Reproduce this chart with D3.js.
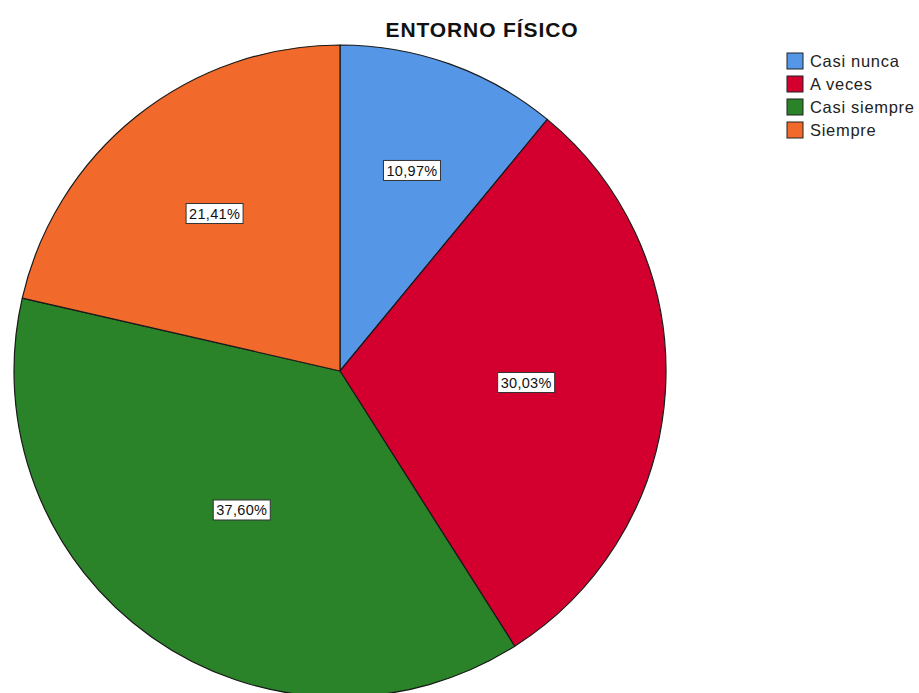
<!DOCTYPE html>
<html>
<head>
<meta charset="utf-8">
<script src="https://cdn.jsdelivr.net/npm/d3@7"></script>
<style>
  html, body { margin: 0; padding: 0; background: #fff; }
  svg { display: block; font-family: Arial, "Liberation Sans", sans-serif; }
</style>
</head>
<body>
<svg id="chart" width="919" height="693"></svg>
<script>
const title = "ENTORNO FÍSICO";
const categories = ["Casi nunca", "A veces", "Casi siempre", "Siempre"];
const values = [10.97, 30.03, 37.60, 21.41];
const labels = ["10,97%", "30,03%", "37,60%", "21,41%"];
const colors = ["#5596E6", "#D3002F", "#2A8229", "#F26A2B"];

const svg = d3.select("#chart");
const cx = 340, cy = 371, R = 326;

const color = d3.scaleOrdinal().domain(categories).range(colors);
const data = categories.map((c, i) => ({ cat: c, value: values[i], label: labels[i] }));

const pie = d3.pie().sort(null).value(d => d.value).startAngle(0).endAngle(2 * Math.PI);
const arcs = pie(data);
const arc = d3.arc().innerRadius(0).outerRadius(R);

const g = svg.append("g").attr("transform", `translate(${cx},${cy})`);

g.selectAll("path.slice")
  .data(arcs)
  .join("path")
  .attr("class", "slice")
  .attr("d", arc)
  .attr("fill", d => color(d.data.cat))
  .attr("stroke", "#1a1a1a")
  .attr("stroke-width", 1.2)
  .attr("stroke-linejoin", "round");

// Labels near the geometric centroid of each wedge
const lab = g.selectAll("g.lab")
  .data(arcs)
  .join("g")
  .attr("class", "lab")
  .attr("transform", d => {
    const half = (d.endAngle - d.startAngle) / 2;
    const mid = (d.startAngle + d.endAngle) / 2;
    const r = (2 / 3) * R * Math.sin(half) / half;
    return `translate(${r * Math.sin(mid)},${-r * Math.cos(mid)})`;
  });

lab.append("rect")
  .attr("x", -28.5).attr("y", -10)
  .attr("width", 57).attr("height", 20)
  .attr("fill", "#fff")
  .attr("stroke", "#333")
  .attr("stroke-width", 1);

lab.append("text")
  .attr("text-anchor", "middle")
  .attr("dy", "0.36em")
  .attr("font-size", 14.5)
  .attr("letter-spacing", 0.3)
  .attr("fill", "#111")
  .text(d => d.data.label);

// Title
svg.append("text")
  .attr("x", 482).attr("y", 37)
  .attr("text-anchor", "middle")
  .attr("font-size", 21)
  .attr("font-weight", "bold")
  .attr("letter-spacing", 0.9)
  .attr("fill", "#111")
  .text(title);

// Legend
const legend = svg.append("g").attr("transform", "translate(787,53)");
const row = legend.selectAll("g")
  .data(categories)
  .join("g")
  .attr("transform", (d, i) => `translate(0,${i * 23})`);

row.append("rect")
  .attr("width", 16).attr("height", 16)
  .attr("fill", d => color(d))
  .attr("stroke", "#222")
  .attr("stroke-width", 1);

row.append("text")
  .attr("x", 23).attr("y", 8)
  .attr("dy", "0.36em")
  .attr("font-size", 16.5)
  .attr("letter-spacing", 0.7)
  .attr("fill", "#222")
  .text(d => d);
</script>
</body>
</html>
